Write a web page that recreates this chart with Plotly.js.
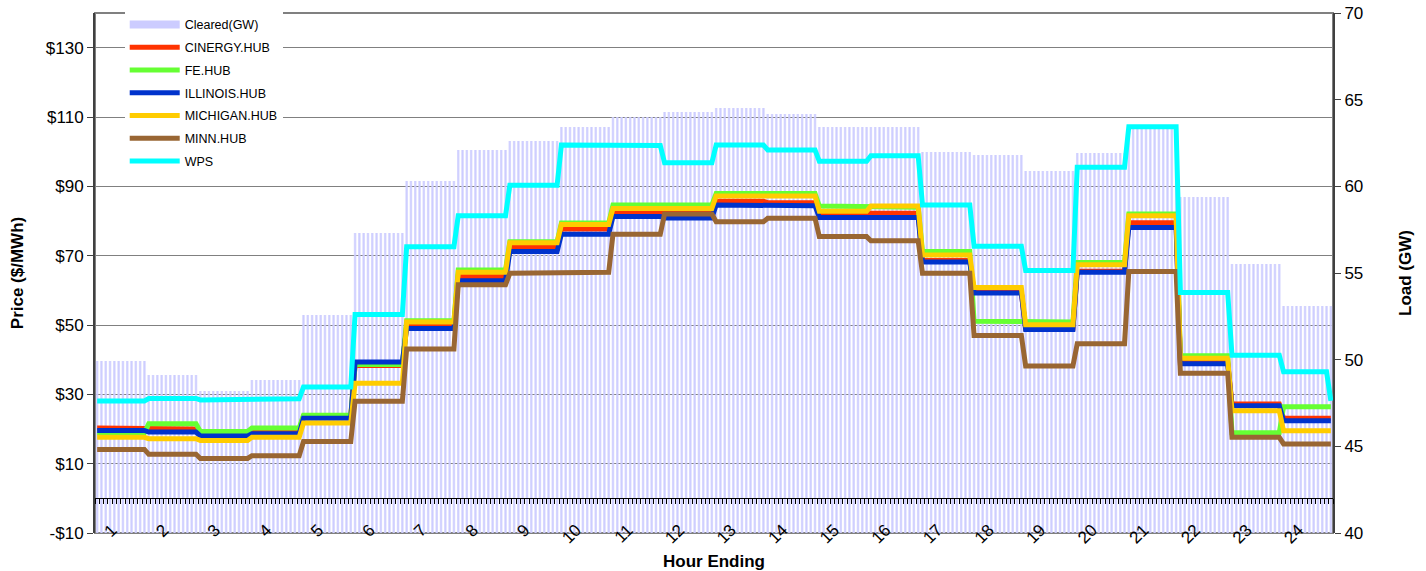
<!DOCTYPE html>
<html>
<head>
<meta charset="utf-8">
<script src="https://cdn.plot.ly/plotly-3.0.1.min.js"></script>
<style>
html,body{margin:0;padding:0;background:#ffffff;}
#chart{width:1426px;height:571px;}
</style>
</head>
<body>
<div id="chart"></div>
<script>
// ---- data (hourly values) ----
const hours = [1,2,3,4,5,6,7,8,9,10,11,12,13,14,15,16,17,18,19,20,21,22,23,24];
const hourLabels = ['1','2','3','4','5','6','7','8','9','10','11','12','13','14','15','16','17','18','19','20','21','22','23','24'];
const clearedGW = [49.9,49.1,48.2,48.8,52.6,57.3,60.3,62.1,62.6,63.4,64.0,64.3,64.5,64.2,63.4,63.4,62.0,61.8,60.9,61.9,63.3,59.4,55.5,53.1];
const cinergyHub = [20.3,20.0,18.8,19.7,23.6,38.3,49.9,64.0,72.6,77.7,82.4,82.6,85.7,85.3,82.2,82.2,68.6,59.4,48.9,65.5,79.5,39.2,27.2,23.1];
const feHub = [18.9,21.5,19.3,20.3,24.0,38.6,51.2,65.9,74.0,79.4,84.6,84.6,87.9,87.9,84.3,84.0,71.2,51.1,50.9,68.0,82.0,41.1,18.9,26.4];
const illinoisHub = [19.6,19.1,18.0,18.6,23.1,39.3,49.0,62.8,71.2,76.2,81.3,80.9,84.6,84.4,81.0,81.0,68.2,59.2,48.7,65.2,78.1,38.8,26.7,22.4];
const michiganHub = [17.6,17.2,16.7,17.6,21.7,33.2,50.9,65.2,73.7,79.0,83.6,83.6,87.2,87.2,82.8,84.3,70.2,60.8,50.1,67.4,81.5,40.4,25.3,19.5];
const minnHub = [14.1,12.7,11.5,12.3,16.4,28.0,43.1,61.6,64.9,65.2,76.2,82.0,79.8,80.8,75.5,74.3,64.9,47.0,38.2,44.6,65.4,36.1,17.6,15.7];
const wps = [28.1,28.8,28.4,28.7,32.1,53.0,72.6,81.5,90.3,101.9,101.8,96.8,101.9,100.5,97.2,98.8,84.6,72.7,65.7,95.5,107.2,59.4,41.3,36.5];
const wpsLastInterval = 28.1;   // final 5-minute interval of WPS
const priceTickVals = [-10,10,30,50,70,90,110,130];
const priceTickText = ['-$10','$10','$30','$50','$70','$90','$110','$130'];
const loadTickVals = [40,45,50,55,60,65,70];

// ---- helpers: hourly values held constant across 5-minute intervals ----
const IV = 1/12; // one 5-minute interval, in hours
function stepSeries(vals, tail){
  const xs = [], ys = [];
  vals.forEach((v,i)=>{
    const h = hours[i];
    const last = (i === vals.length-1) && tail !== undefined;
    xs.push(h-1+IV/2); ys.push(v);
    xs.push(h-(last?1.5:0.5)*IV); ys.push(v);
  });
  if(tail !== undefined){ xs.push(hours[hours.length-1]-IV/2); ys.push(tail); }
  return {x:xs, y:ys};
}

const font = 'Liberation Sans, Arial, sans-serif';
function lineTrace(name, vals, color, tail){
  const s = stepSeries(vals, tail);
  return {type:'scatter', mode:'lines', name:name, x:s.x, y:s.y, yaxis:'y2',
          line:{color:color, width:5}, legendgroup:name, hoverinfo:'skip'};
}

const traces = [
  {type:'scatter', mode:'lines', name:'Cleared(GW)', x:[null], y:[null], yaxis:'y',
   line:{color:'#ccccff', width:8}, legendgroup:'Cleared', hoverinfo:'skip'},
  {type:'bar', name:'Cleared(GW)', x:hours.map(h=>h-0.5), y:clearedGW, width:1, yaxis:'y',
   showlegend:false, hoverinfo:'skip', legendgroup:'Cleared',
   marker:{color:'#ccccff', line:{width:0},
     pattern:{shape:'|', fillmode:'replace', fgcolor:'#ccccff', bgcolor:'rgba(0,0,0,0)', size:1238/288, solidity:0.5}}},
  lineTrace('CINERGY.HUB', cinergyHub, '#ff3300'),
  lineTrace('FE.HUB', feHub, '#66ff33'),
  lineTrace('ILLINOIS.HUB', illinoisHub, '#0033cc'),
  lineTrace('MICHIGAN.HUB', michiganHub, '#ffcc00'),
  lineTrace('MINN.HUB', minnHub, '#996633'),
  lineTrace('WPS', wps, '#00ffff', wpsLastInterval)
];

const layout = {
  width:1426, height:571,
  margin:{l:95, r:93, t:10, b:38, pad:0},
  paper_bgcolor:'#ffffff', plot_bgcolor:'#ffffff',
  font:{family:font, size:17, color:'#000'},
  showlegend:true,
  bargap:0,
  legend:{x:0.024, y:1.006, xanchor:'left', yanchor:'top', bgcolor:'#ffffff', borderwidth:0,
          font:{family:font, size:12.5, color:'#000'}, itemwidth:50, tracegroupgap:3.5, traceorder:'grouped'},
  xaxis:{range:[0,24], anchor:'free', position:10/150, showgrid:false, zeroline:false,
         showline:true, linecolor:'#000', linewidth:1,
         tickmode:'array', tickvals:hours.map(h=>h-1+0.33), ticktext:hourLabels,
         tickangle:-45, ticks:'', ticklabelstandoff:14,
         tickfont:{family:font, size:17, color:'#000'},
         minor:{tickmode:'linear', tick0:0, dtick:IV, ticks:'outside', ticklen:5, tickcolor:'#000', tickwidth:1, showgrid:false},
         title:{text:'<b>Hour Ending</b>', font:{family:font, size:17, color:'#000'}, standoff:13}},
  yaxis:{range:[40,70], side:'right', tickmode:'array', tickvals:loadTickVals,
         showgrid:false, zeroline:false, showline:true, linecolor:'#404040', linewidth:2,
         ticks:'outside', ticklen:6, tickcolor:'#404040',
         tickfont:{family:font, size:17, color:'#000'},
         title:{text:'<b>Load (GW)</b>', font:{family:font, size:17, color:'#000'}, standoff:37}},
  yaxis2:{range:[-10,140], side:'left', overlaying:'y', tickmode:'array', tickvals:priceTickVals, ticktext:priceTickText,
          showgrid:true, gridcolor:'#808080', gridwidth:1, zeroline:false,
          showline:true, linecolor:'#404040', linewidth:2,
          ticks:'outside', ticklen:6, tickcolor:'#404040',
          tickfont:{family:font, size:17, color:'#000'},
          title:{text:'<b>Price ($/MWh)</b>', font:{family:font, size:17, color:'#000'}, standoff:18}},
  shapes:[{type:'rect', xref:'paper', yref:'paper', x0:0, x1:1, y0:0, y1:1,
           line:{color:'#808080', width:2}, layer:'below'}]
};

Plotly.newPlot('chart', traces, layout, {displayModeBar:false, staticPlot:true});
</script>
</body>
</html>
